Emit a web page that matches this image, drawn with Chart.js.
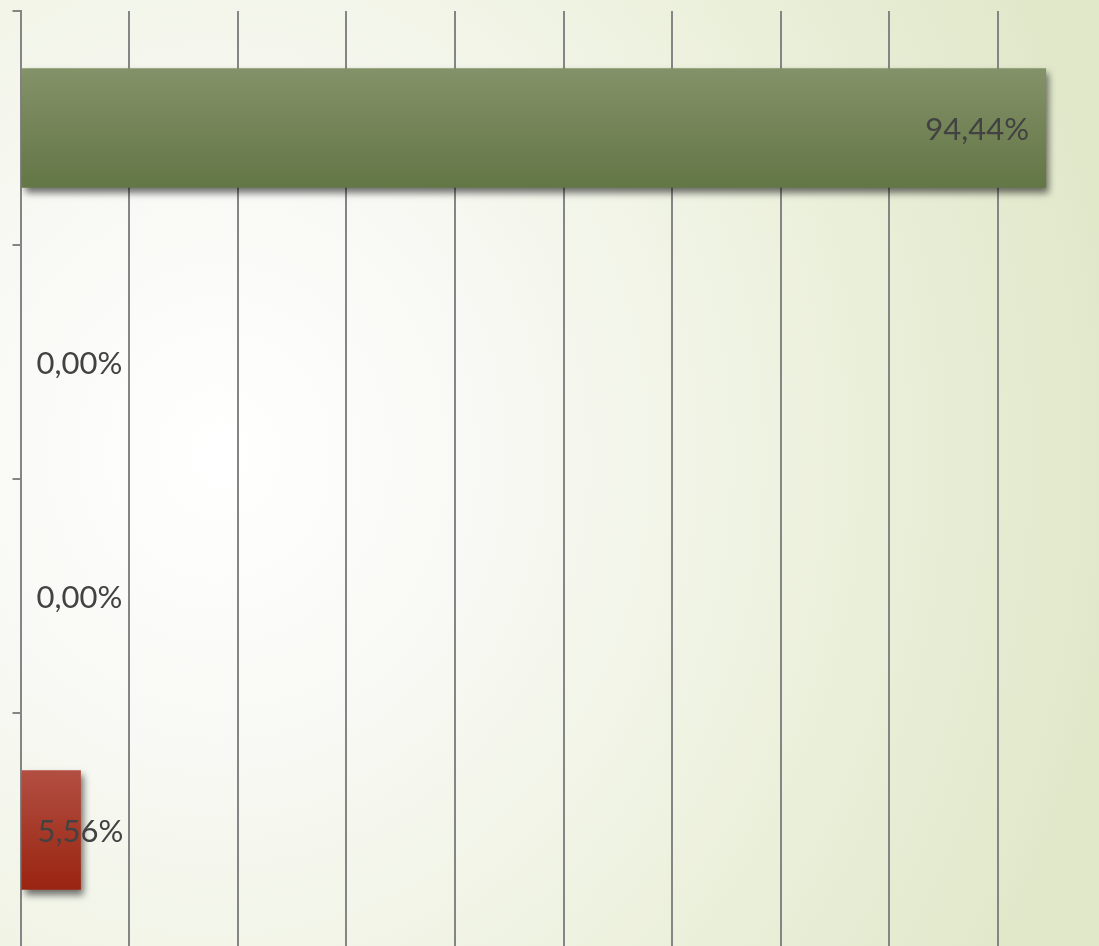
<!DOCTYPE html>
<html>
<head>
<meta charset="utf-8">
<script src="https://cdn.jsdelivr.net/npm/chart.js@4"></script>
<style>
  html, body { margin: 0; padding: 0; overflow: hidden; width: 1099px; height: 946px; }
  body {
    background: radial-gradient(ellipse 900px 1000px at 20% 48%, #ffffff 0%, #f8f9f4 30%, #eef2e0 62%, #e1e8ca 100%);
  }
  #wrap { position: absolute; left: 0; top: 0; width: 1120px; height: 960px; }
</style>
</head>
<body>
<div id="wrap"><canvas id="myChart" width="1120" height="960"></canvas></div>
<script>
// values, top to bottom
const categories = ['1', '2', '3', '4'];
const values = [94.44, 0, 0, 5.56];
const topColors = ['#849269', '#849269', '#849269', '#b24f42'];
const bottomColors = ['#637645', '#637645', '#637645', '#9a2410'];
const xTicks = [0, 10, 20, 30, 40, 50, 60, 70, 80, 90, 100];

function barFill(context) {
  const chart = context.chart;
  const i = context.dataIndex;
  if (!chart.chartArea || !chart.scales.y) return topColors[i];
  const cy = chart.scales.y.getPixelForValue(i);
  const g = chart.ctx.createLinearGradient(0, cy - 60, 0, cy + 60);
  g.addColorStop(0, topColors[i]);
  g.addColorStop(1, bottomColors[i]);
  return g;
}

const barLook = {
  id: 'barLook',
  beforeDatasetsDraw(chart) {
    const ctx = chart.ctx;
    ctx.save();
    ctx.shadowColor = 'rgba(0,0,0,0.55)';
    ctx.shadowBlur = 7;
    ctx.shadowOffsetX = 3;
    ctx.shadowOffsetY = 5;
  },
  afterDatasetsDraw(chart) {
    const ctx = chart.ctx;
    ctx.restore();
    ctx.save();
    ctx.font = '31px Lato';
    ctx.fillStyle = '#424242';
    ctx.textBaseline = 'middle';
    const meta = chart.getDatasetMeta(0);
    meta.data.forEach((bar, i) => {
      const txt = values[i].toFixed(2).replace('.', ',') + '%';
      const w = ctx.measureText(txt).width;
      if (bar.x - bar.base > w + 34) {
        ctx.textAlign = 'right';
        ctx.fillText(txt, bar.x - 17, bar.y + 2);
      } else {
        ctx.textAlign = 'left';
        ctx.fillText(txt, bar.base + 16, bar.y + 2);
      }
    });
    ctx.restore();
  }
};

const ctx = document.getElementById('myChart').getContext('2d');
const myChart = new Chart(ctx, {
  type: 'bar',
  data: {
    labels: categories,
    datasets: [{
      data: values,
      backgroundColor: barFill,
      borderWidth: 0,
      categoryPercentage: 1,
      barPercentage: 0.51
    }]
  },
  options: {
    indexAxis: 'y',
    responsive: false,
    animation: false,
    layout: { padding: { left: 12.5, top: 11, right: 13.5, bottom: 13 } },
    plugins: { legend: { display: false }, tooltip: { enabled: false } },
    scales: {
      x: {
        position: 'top',
        min: 0,
        max: 100,
        afterBuildTicks: (axis) => { axis.ticks = xTicks.map(v => ({ value: v })); },
        ticks: { display: false },
        grid: { color: '#858585', lineWidth: 2, drawTicks: false },
        border: { display: false }
      },
      y: {
        ticks: { display: false },
        grid: { drawOnChartArea: false, color: '#858585', lineWidth: 2, tickLength: 8, offset: true },
        border: { display: true, color: '#858585', width: 2 }
      }
    }
  },
  plugins: [barLook]
});
</script>
</body>
</html>
